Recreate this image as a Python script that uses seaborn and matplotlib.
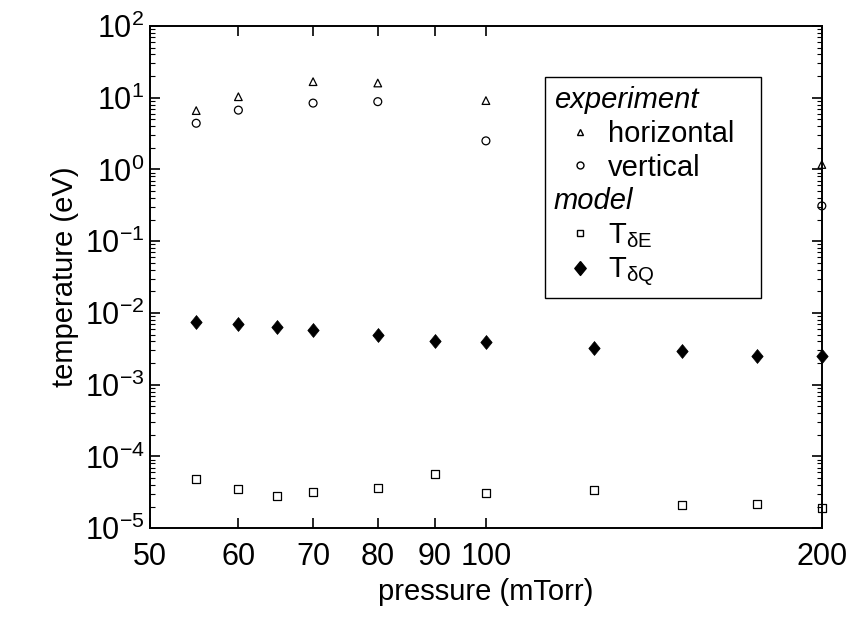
import numpy as np
import pandas as pd
import seaborn as sns
import matplotlib.pyplot as plt
from matplotlib.lines import Line2D
from matplotlib.ticker import LogLocator, NullLocator, NullFormatter, FixedLocator, FixedFormatter

# experiment data (eV)
exp_pressure = [55, 60, 70, 80, 100, 200]
horizontal = [6.6, 10.3, 16.7, 16.0, 9.1, 1.17]
vertical = [4.4, 6.7, 8.4, 8.8, 2.5, 0.31]

# model data (eV)
model_pressure = [55, 60, 65, 70, 80, 90, 100, 125, 150, 175, 200]
t_dE = [4.8e-5, 3.5e-5, 2.8e-5, 3.2e-5, 3.6e-5, 5.7e-5, 3.1e-5, 3.4e-5, 2.1e-5, 2.2e-5, 1.9e-5]
t_dQ = [7.4e-3, 7.1e-3, 6.3e-3, 5.7e-3, 5.0e-3, 4.0e-3, 3.9e-3, 3.2e-3, 2.9e-3, 2.5e-3, 2.5e-3]

xticks = [50, 60, 70, 80, 90, 100, 200]

sns.set_theme(style="ticks")
plt.rcParams['font.family'] = ['Liberation Sans', 'DejaVu Sans']
plt.rcParams['mathtext.fontset'] = 'custom'
plt.rcParams['mathtext.rm'] = 'Liberation Sans'
plt.rcParams['mathtext.it'] = 'Liberation Sans:italic'
for k in ['text.color', 'axes.labelcolor', 'xtick.color', 'ytick.color', 'axes.edgecolor']:
    plt.rcParams[k] = 'black'

# taller-than-wide diamond like the original
diamond = [(0, 1), (0.82, 0), (0, -1), (-0.82, 0), (0, 1)]

fig = plt.figure(figsize=(8.49, 6.17), dpi=100)
ax = fig.add_axes([0.1767, 0.144, 0.7913, 0.814])
ax.set_xscale('log')
ax.set_yscale('log')

exp_df = pd.DataFrame({'p': exp_pressure, 'h': horizontal, 'v': vertical})
mod_df = pd.DataFrame({'p': model_pressure, 'e': t_dE, 'q': t_dQ})

sns.scatterplot(data=exp_df, x='p', y='h', marker='^', s=30, facecolors='none',
                edgecolor='black', linewidth=0.9, ax=ax, clip_on=False, zorder=3)
sns.scatterplot(data=exp_df, x='p', y='v', marker='o', s=32, facecolors='none',
                edgecolor='black', linewidth=0.9, ax=ax, clip_on=False, zorder=3)
sns.scatterplot(data=mod_df, x='p', y='e', marker='s', s=34, facecolors='none',
                edgecolor='black', linewidth=0.9, ax=ax, clip_on=False, zorder=3)
sns.scatterplot(data=mod_df, x='p', y='q', marker=diamond, s=100, color='black',
                edgecolor='black', linewidth=0.5, ax=ax, clip_on=False, zorder=3)

ax.set_xlim(50, 200)
ax.set_ylim(1e-5, 1e2)
ax.xaxis.set_major_locator(FixedLocator(xticks))
ax.xaxis.set_major_formatter(FixedFormatter([str(t) for t in xticks]))
ax.xaxis.set_minor_locator(NullLocator())
ax.xaxis.set_minor_formatter(NullFormatter())
ax.yaxis.set_major_locator(LogLocator(base=10, numticks=20))
ax.yaxis.set_minor_locator(LogLocator(base=10, subs=np.arange(2, 10), numticks=100))
ax.yaxis.set_minor_formatter(NullFormatter())

ax.tick_params(which='both', direction='in', top=True, right=True, color='black')
ax.tick_params(which='major', length=7, width=1.2, labelsize=22)
ax.tick_params(axis='x', which='major', pad=10)
ax.tick_params(axis='y', which='major', pad=4)
ax.tick_params(which='minor', length=3.5, width=0.8)
for s in ax.spines.values():
    s.set_visible(True)
    s.set_linewidth(1.4)
    s.set_color('black')

ax.set_xlabel('pressure (mTorr)', fontsize=21, labelpad=4)
ax.set_ylabel('temperature (eV)', fontsize=21, labelpad=4)

# legend with italic group headers
handles = [
    Line2D([], [], linestyle='none', label='experiment'),
    Line2D([], [], linestyle='none', marker='^', markersize=5, mfc='none', mec='black', label='horizontal'),
    Line2D([], [], linestyle='none', marker='o', markersize=5, mfc='none', mec='black', label='vertical'),
    Line2D([], [], linestyle='none', label='model'),
    Line2D([], [], linestyle='none', marker='s', markersize=5, mfc='none', mec='black', label=r'$\mathregular{T_{\delta E}}$'),
    Line2D([], [], linestyle='none', marker=diamond, markersize=10, mfc='black', mec='black', label=r'$\mathregular{T_{\delta Q}}$'),
]
leg = ax.legend(handles=handles, loc='upper left', bbox_to_anchor=(0.588, 0.898),
                borderaxespad=0, fontsize=21, frameon=True, fancybox=False,
                edgecolor='black', framealpha=1, handlelength=1.8,
                handletextpad=0.05, labelspacing=0.2, borderpad=0.3)
leg.get_frame().set_linewidth(1.0)
for t in leg.get_texts():
    if t.get_text() in ('experiment', 'model'):
        t.set_style('italic')
        t.set_position((-54, 0))

fig.savefig('out.png', dpi=100)
